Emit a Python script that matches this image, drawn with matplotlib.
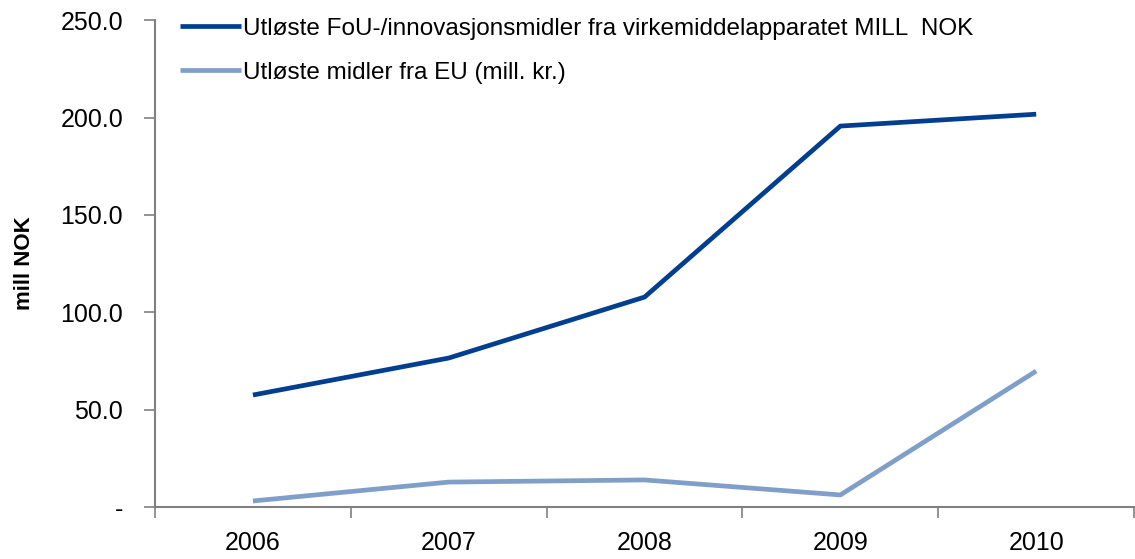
import matplotlib
matplotlib.use("Agg")
import matplotlib.pyplot as plt

plt.rcParams['font.family'] = ['Liberation Sans', 'DejaVu Sans']

years = ["2006", "2007", "2008", "2009", "2010"]
fou = [57.5, 76.5, 107.8, 195.6, 201.7]
eu = [3.1, 12.8, 13.9, 6.2, 69.8]
yticks = [0, 50, 100, 150, 200, 250]

fig = plt.figure(figsize=(11.35, 5.59), dpi=100)
ax = fig.add_axes([0.1366, 0.093, 0.8626, 0.871])

x = range(len(years))
ax.plot(x, fou, color='#003F8F', lw=3.4, solid_capstyle='butt',
        label='Utløste FoU-/innovasjonsmidler fra virkemiddelapparatet MILL  NOK')
ax.plot(x, eu, color='#7F9FC8', lw=3.4, solid_capstyle='butt',
        label='Utløste midler fra EU (mill. kr.)')

ax.set_xlim(-0.5, len(years) - 0.5)
ax.set_ylim(0, 250)
ax.set_yticks(yticks)
ax.set_yticklabels(['-' if v == 0 else f"{v:.1f}" for v in yticks])
ax.set_xticks([i + 0.5 for i in range(-1, len(years))], minor=False)
ax.set_xticklabels([])
ax.set_xticks(list(x), minor=True)
ax.set_xticklabels(years, minor=True)
ax.tick_params(axis='x', which='major', length=8, color='#808080', width=1.2, direction='out')
ax.tick_params(axis='x', which='minor', length=0, labelsize=18, pad=17)
ax.tick_params(axis='y', length=8, color='#808080', width=1.2, labelsize=18, pad=15)

for s in ['top', 'right']:
    ax.spines[s].set_visible(False)
for s in ['left', 'bottom']:
    ax.spines[s].set_color('#808080')
    ax.spines[s].set_linewidth(1.5)

ax.set_ylabel('mill NOK', fontsize=16, fontweight='bold', labelpad=18)

ax.legend(loc='upper left', bbox_to_anchor=(0.003, 1.05), frameon=False, fontsize=17.5,
          handlelength=2.5, handletextpad=0.1, labelspacing=0.9)

fig.savefig('out.png', dpi=100)
